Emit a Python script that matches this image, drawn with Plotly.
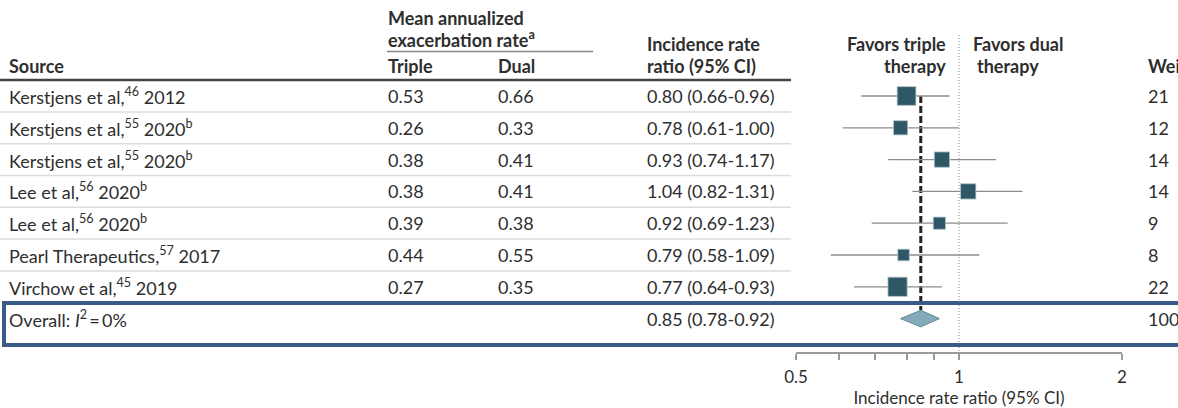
import math
import plotly.graph_objects as go

# ---- data ----
sources = [
    "Kerstjens et al,<sup>46</sup> 2012",
    "Kerstjens et al,<sup>55</sup> 2020<sup>b</sup>",
    "Kerstjens et al,<sup>55</sup> 2020<sup>b</sup>",
    "Lee et al,<sup>56</sup> 2020<sup>b</sup>",
    "Lee et al,<sup>56</sup> 2020<sup>b</sup>",
    "Pearl Therapeutics,<sup>57</sup> 2017",
    "Virchow et al,<sup>45</sup> 2019",
]
triple_rate = [0.53, 0.26, 0.38, 0.38, 0.39, 0.44, 0.27]
dual_rate = [0.66, 0.33, 0.41, 0.41, 0.38, 0.55, 0.35]
irr = [0.80, 0.78, 0.93, 1.04, 0.92, 0.79, 0.77]
ci_low = [0.66, 0.61, 0.74, 0.82, 0.69, 0.58, 0.64]
ci_high = [0.96, 1.00, 1.17, 1.31, 1.23, 1.09, 0.93]
weights = [21, 12, 14, 14, 9, 8, 22]

overall_label = "Overall: <i>I</i><sup>2</sup>\u2009=\u20090%"
overall_irr = 0.85
overall_low = 0.78
overall_high = 0.92
overall_weight = 100

major_ticks = [0.5, 1, 2]
major_ticktext = ["0.5", "1", "2"]
minor_ticks = [0.6, 0.7, 0.8, 0.9]

# ---- page geometry ----
W, H = 1178, 408
ROW0 = 96          # centre of first study row, px from top
STEP = 31.8        # row pitch, px
AXIS_Y = 352       # x axis line, px from top
FONT = "Lato"
TXT = "#2e2e2e"
SQUARE = "#2e5866"
DIAMOND = "#84abba"
BOX = "#3a5b88"


def px(p):
    return p / W


def py(p):
    return 1 - p / H


n = len(sources)
overall_row = n
rows = list(range(n))

fig = go.Figure()

# confidence intervals
ci_x, ci_y = [], []
for i in rows:
    ci_x += [ci_low[i], ci_high[i], None]
    ci_y += [i, i, None]
fig.add_trace(go.Scatter(x=ci_x, y=ci_y, mode="lines",
                         line=dict(color="#8c8c8c", width=1.3),
                         hoverinfo="skip", showlegend=False))

# study point estimates, box area scaled by weight
fig.add_trace(go.Scatter(
    x=irr, y=rows, mode="markers",
    marker=dict(symbol="square", color=SQUARE, opacity=1,
                size=[4.1 * math.sqrt(w) for w in weights],
                line=dict(color="#b9c8cd", width=0.8)),
    showlegend=False, hoverinfo="skip"))

# pooled estimate diamond
half_h = 0.26
fig.add_trace(go.Scatter(
    x=[overall_low, overall_irr, overall_high, overall_irr, overall_low],
    y=[overall_row, overall_row - half_h, overall_row,
       overall_row + half_h, overall_row],
    mode="lines", fill="toself", fillcolor=DIAMOND,
    line=dict(color="#5f8696", width=1),
    showlegend=False, hoverinfo="skip"))

shapes = []
# pooled estimate reference line
shapes.append(dict(type="line", xref="x", yref="y",
                   x0=overall_irr, x1=overall_irr,
                   y0=0, y1=overall_row - half_h,
                   line=dict(color="#222222", width=3, dash="7px,3px"),
                   layer="below"))
# line of no effect
shapes.append(dict(type="line", xref="x", yref="paper",
                   x0=1, x1=1, y0=py(35), y1=py(362),
                   line=dict(color="#8a8a8a", width=1, dash="1px,2px"),
                   layer="below"))
# header rules
shapes.append(dict(type="line", xref="paper", yref="paper",
                   x0=px(387), x1=px(593), y0=py(51.5), y1=py(51.5),
                   line=dict(color="#8a8a8a", width=1.5)))
shapes.append(dict(type="line", xref="paper", yref="y",
                   x0=0, x1=px(791), y0=-0.5, y1=-0.5,
                   line=dict(color="#444444", width=2.5)))
# row separators
for i in rows[:-1]:
    shapes.append(dict(type="line", xref="paper", yref="y",
                       x0=0, x1=px(791), y0=i + 0.5, y1=i + 0.5,
                       line=dict(color="#dcdcdc", width=1.5), layer="below"))
# highlight box around the overall row
shapes.append(dict(type="rect", xref="paper", yref="paper",
                   x0=px(4), x1=px(1185), y0=py(303), y1=py(345),
                   line=dict(color=BOX, width=4)))

ann = []


def text(x, y, s, yref="y", bold=False, anchor="left", size=18):
    ann.append(dict(x=px(x), y=y, xref="paper", yref=yref, text=s,
                    showarrow=False, xanchor=anchor, yanchor="middle",
                    borderpad=0,
                    font=dict(family=FONT, size=size, color=TXT,
                              weight="bold" if bold else "normal")))


# headers
text(8, py(66), "Source", yref="paper", bold=True)
text(387, py(18), "Mean annualized", yref="paper", bold=True)
text(387, py(39), "exacerbation rate<sup>a</sup>", yref="paper", bold=True)
text(387, py(66), "Triple", yref="paper", bold=True)
text(497, py(66), "Dual", yref="paper", bold=True)
text(646, py(44), "Incidence rate", yref="paper", bold=True)
text(646, py(66), "ratio (95% CI)", yref="paper", bold=True)
text(947, py(44), "Favors triple", yref="paper", bold=True, anchor="right")
text(947, py(66), "therapy", yref="paper", bold=True, anchor="right")
text(972, py(44), "Favors dual", yref="paper", bold=True)
text(976, py(66), "therapy", yref="paper", bold=True)
text(1147, py(66), "Weight", yref="paper", bold=True)

# study rows
for i in rows:
    text(8, i, sources[i])
    text(387, i, f"{triple_rate[i]:.2f}")
    text(497, i, f"{dual_rate[i]:.2f}")
    text(646, i, f"{irr[i]:.2f} ({ci_low[i]:.2f}-{ci_high[i]:.2f})")
    text(1147, i, str(weights[i]))

# overall row
text(8, overall_row, overall_label)
text(646, overall_row,
     f"{overall_irr:.2f} ({overall_low:.2f}-{overall_high:.2f})")
text(1147, overall_row, str(overall_weight))

r0 = -ROW0 / STEP
r1 = r0 + AXIS_Y / STEP

fig.update_layout(
    width=W, height=H,
    margin=dict(l=0, r=0, t=0, b=0, autoexpand=False),
    paper_bgcolor="white", plot_bgcolor="rgba(0,0,0,0)",
    shapes=shapes, annotations=ann,
    font=dict(family=FONT, color=TXT),
    xaxis=dict(type="log",
               domain=[px(796), px(1122)],
               range=[math.log10(0.5), math.log10(2)],
               tickvals=major_ticks, ticktext=major_ticktext,
               ticks="outside", ticklen=6, tickwidth=1.5, tickcolor="#9a9a9a",
               minor=dict(tickvals=minor_ticks, ticks="outside", ticklen=6,
                          tickwidth=1.5, tickcolor="#9a9a9a", showgrid=False),
               ticklabelstandoff=3,
               showline=True, linecolor="#9a9a9a", linewidth=1.5,
               showgrid=False, zeroline=False,
               tickfont=dict(family=FONT, size=17, color=TXT),
               title=dict(text="Incidence rate ratio (95% CI)",
                          font=dict(family=FONT, size=17, color=TXT),
                          standoff=6),
               fixedrange=True),
    yaxis=dict(domain=[1 - AXIS_Y / H, 1], range=[r1, r0],
               visible=False, fixedrange=True),
)

fig.write_html(
    "out.html",
    post_script="document.body.style.margin='0';"
                "document.documentElement.style.overflow='hidden';",
)
